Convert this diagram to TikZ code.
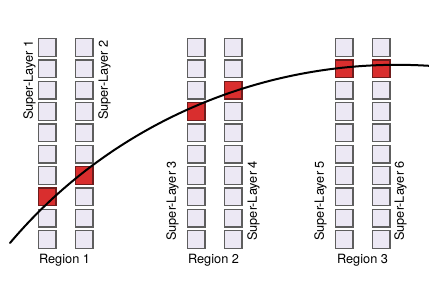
\documentclass[tikz,border=0pt]{standalone}
\usepackage{fontspec}
\setmainfont{TeX Gyre Heros}
\usetikzlibrary{positioning}
\definecolor{slfill}{HTML}{ECE8F4}
\definecolor{sldraw}{HTML}{5E5E5E}
\definecolor{hitfill}{HTML}{D92E2E}
\definecolor{hitdraw}{HTML}{6E1C1C}
\tikzset{
  cell/.style={rectangle,draw=sldraw,fill=slfill,line width=.4mm,minimum size=5.3mm,inner sep=0pt},
  hit/.style={cell,draw=hitdraw,fill=hitfill},
  sllabel/.style={rotate=90,inner sep=0pt,font=\fontsize{10.9}{12}\selectfont},
  region/.style={font=\fontsize{10.9}{12}\selectfont},
  track/.style={line width=.6mm,black,line cap=round},
}

\begin{document}
\begin{tikzpicture}[x=.3mm,y=-.3mm]
  \useasboundingbox (0,0) rectangle (429,301);

  % ---------------- super-layer columns ----------------
  \foreach \col/\xc/\hitrow in {1/47/7, 2/84/6, 3/196/3, 4/233/2, 5/344/1, 6/381/1}{
    \foreach \r in {0,...,9}{
      \ifnum\r=\hitrow \def\kind{hit}\else \def\kind{cell}\fi
      \node[\kind] (sl\col-\r) at (\xc,47.5+21.33*\r) {};
    }
  }

  % ---------------- labels ----------------
  \node[sllabel,anchor=south east] (lab1) at (36,40) {Super-Layer 1};
  \node[sllabel,anchor=north east] (lab2) at (98,40) {Super-Layer 2};
  \node[sllabel,anchor=south west] (lab3) at (179,241) {Super-Layer 3};
  \node[sllabel,anchor=north west] (lab4) at (247,241) {Super-Layer 4};
  \node[sllabel,anchor=south west] (lab5) at (327,241) {Super-Layer 5};
  \node[sllabel,anchor=north west] (lab6) at (394,241) {Super-Layer 6};

  \node[region] (reg1) at (64.5,260) {Region 1};
  \node[region] (reg2) at (213.5,260) {Region 2};
  \node[region] (reg3) at (362.5,260) {Region 3};

  % track through the hits
  \coordinate (trackstart) at (10,243);
  \coordinate (trackend) at (432,66);
  \draw[track] (trackstart) .. controls (113,121) and (270,55) .. (trackend);
\end{tikzpicture}
\end{document}
